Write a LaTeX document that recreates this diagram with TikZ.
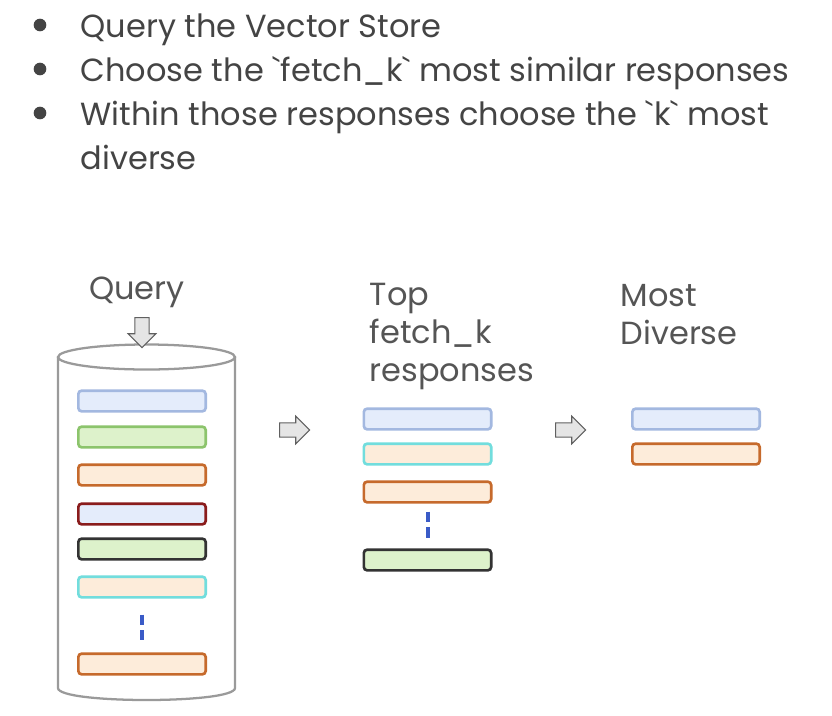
\documentclass[tikz,border=0pt]{standalone}
\usepackage{fontspec}
\setmainfont{Poppins}[Ligatures=TeXOff]
\usetikzlibrary{shapes.geometric,shapes.arrows,positioning,calc}

\definecolor{txtgray}{HTML}{444444}
\definecolor{lblgray}{HTML}{555555}
\definecolor{cylgray}{HTML}{9A9A9A}
\definecolor{blueline}{HTML}{A3B8E0}
\definecolor{bluefill}{HTML}{E4ECFB}
\definecolor{greenline}{HTML}{8CC46C}
\definecolor{greenfill}{HTML}{DDF2CB}
\definecolor{orangeline}{HTML}{C66A2C}
\definecolor{orangefill}{HTML}{FDECDA}
\definecolor{redline}{HTML}{8A1C1C}
\definecolor{darkline}{HTML}{333333}
\definecolor{cyanline}{HTML}{72DDDD}
\definecolor{dashblue}{HTML}{3A5BC7}

\begin{document}
\begin{tikzpicture}[x=0.75pt, y=-0.75pt, every node/.style={font=\fontsize{24}{33}\selectfont, text=txtgray},
    bar/.style={draw, rounded corners=2.5pt, line width=2pt, minimum width=95.5pt, minimum height=15.5pt, inner sep=0pt},
    dot/.style={circle, fill=txtgray, minimum size=9.5pt, inner sep=0pt},
    lbl/.style={text=lblgray, align=left, font=\fontsize{24}{28.5}\selectfont},
    blockarrow/.style={single arrow, draw=gray!75!black, fill=gray!20, line width=0.8pt, minimum height=22.5pt, single arrow head extend=5pt, inner sep=5pt},
    vdash/.style={dashblue, line width=3pt, dash pattern=on 8pt off 3.5pt}]
    \useasboundingbox (0,0) rectangle (832,715);

    % bullet list
    \node[dot] (d1) at (40,25) {};
    \node[dot] (d2) at (40,69) {};
    \node[dot] (d3) at (40,113) {};
    \node[anchor=base west] (t1) at (76,37) {Query the Vector Store};
    \node[anchor=base west] (t2) at (76,81) {Choose the `fetch\_k` most similar responses};
    \node[anchor=base west, align=left] (t3) at (76,169) {Within those responses choose the `k` most\\diverse};

    % vector store
    \node[lbl] (query) at (137,292) {Query};
    \draw[cylgray, line width=1.7pt, fill=white] (58,357) -- (58,688)
        .. controls (58,704) and (235,704) .. (235,688) -- (235,357);
    \draw[cylgray, line width=1.7pt, fill=white] (146.5,357) ellipse [x radius=88.5, y radius=12.5];
    \node[blockarrow, shape border rotate=270] (qa) at (142,329) {};

    % all stored responses
    \node[bar, draw=blueline, fill=bluefill] (s1) at (142,401) {};
    \node[bar, draw=greenline, fill=greenfill] (s2) at (142,437) {};
    \node[bar, draw=orangeline, fill=orangefill] (s3) at (142,475) {};
    \node[bar, draw=redline, fill=bluefill] (s4) at (142,514) {};
    \node[bar, draw=darkline, fill=greenfill] (s5) at (142,549) {};
    \node[bar, draw=cyanline, fill=orangefill] (s6) at (142,587) {};
    \node[bar, draw=orangeline, fill=orangefill] (s7) at (142,664) {};
    \draw[vdash, shorten <=12pt, shorten >=9pt] (s6.south) -- (s7.north);

    % top fetch_k
    \node[blockarrow] (a1) at (291,430) {};
    \node[lbl, anchor=north west] (top) at (365,278) {Top\\fetch\_k\\responses};
    \node[bar, draw=blueline, fill=bluefill] (m1) at (427.5,419) {};
    \node[bar, draw=cyanline, fill=orangefill] (m2) at (427.5,454) {};
    \node[bar, draw=orangeline, fill=orangefill] (m3) at (427.5,492) {};
    \node[bar, draw=darkline, fill=greenfill] (m4) at (427.5,560) {};
    \draw[vdash, shorten <=6pt, shorten >=6.75pt] (m3.south) -- (m4.north);

    % most diverse
    \node[blockarrow] (a2) at (567,430) {};
    \node[lbl, anchor=north west] (most) at (616,280) {Most\\Diverse};
    \node[bar, draw=blueline, fill=bluefill] (r1) at (696,419) {};
    \node[bar, draw=orangeline, fill=orangefill] (r2) at (696,454) {};
\end{tikzpicture}
\end{document}
